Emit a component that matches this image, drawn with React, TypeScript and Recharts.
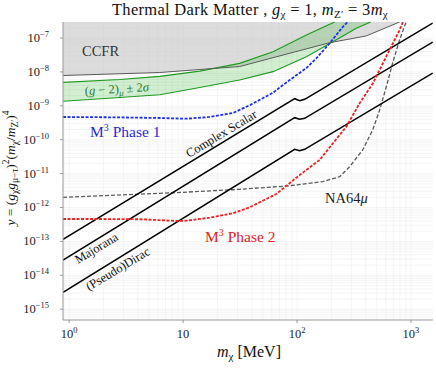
import React from 'react';
import { ComposedChart, Line, Area, XAxis, YAxis, CartesianGrid } from 'recharts';

const W = 436;
const H = 369;
const FONT = '"Liberation Serif", "DejaVu Serif", serif';

const X_MIN = 0.883;
const X_MAX = 1560;
const Y_MIN = 4.8e-16;
const Y_MAX = 2.965e-7;

const X_TICKS = [1, 10, 100, 1000];
const X_TICK_BASE = ['10', '10', '10', '10'];
const X_TICK_EXP = ['0', '', '2', '3'];
const Y_TICKS = [1e-15, 1e-14, 1e-13, 1e-12, 1e-11, 1e-10, 1e-9, 1e-8, 1e-7];
const Y_TICK_EXP = ['−15', '−14', '−13', '−12', '−11', '−10', '−9', '−8', '−7'];

const GRID_DECADES_X = [1, 10, 100];
const GRID_DECADES_Y = [1e-16, 1e-15, 1e-14, 1e-13, 1e-12, 1e-11, 1e-10, 1e-9, 1e-8, 1e-7];
const GRID_MULT = [1, 2, 3, 4, 5, 6, 7, 8, 9];

// CCFR excluded region (lower boundary)
const ccfrMass = [0.884, 6.24, 31.3, 193.2, 405, 794];
const ccfrY = [7.83e-9, 9.6e-9, 1.44e-8, 7.26e-8, 1.15e-7, 2.965e-7];

// (g-2)_mu +- 2 sigma band
const g2Mass = [0.884, 2.78, 6.24, 14.0, 31.3, 61.5, 120.8, 213.8, 331, 443];
const g2Upper = [4.93e-9, 5.97e-9, 7.41e-9, 1.06e-8, 1.79e-8, 3.94e-8, 1.225e-7, 2.965e-7, 2.965e-7, 2.965e-7];
const g2Lower = [1.36e-9, 1.76e-9, 2.12e-9, 3.47e-9, 5.77e-9, 1.014e-8, 2.81e-8, 8.32e-8, 1.93e-7, 2.965e-7];

// thermal targets
const thermalMass = [0.884, 95.3, 105.4, 116.7, 1550];
const complexScalarY = [1.153e-13, 1.62e-9, 1.41e-9, 1.556e-9, 2.75e-7];
const majoranaY = [2.82e-14, 4.46e-10, 4.0e-10, 4.28e-10, 7.57e-8];
const diracY = [3.15e-15, 5.21e-11, 4.74e-11, 5.21e-11, 9.23e-9];

// M3 Phase 1
const m3p1Mass = [0.884, 2.27, 6.24, 10.7, 17.1, 27.4, 38.4, 61.5, 75.2, 120.7, 147.6, 193.2, 252.7, 277.8];
const m3p1Y = [4.68e-10, 4.58e-10, 4.37e-10, 4.16e-10, 4.68e-10, 6.14e-10, 1.04e-9, 2.43e-9, 4.11e-9, 1.3e-8, 2.52e-8, 6.98e-8, 2.15e-7, 2.965e-7];

// M3 Phase 2
const m3p2Mass = [0.884, 1.855, 4.42, 8.73, 10.7, 17.1, 27.2, 38.4, 65.8, 105.4, 157.8, 206.5, 270.6, 354, 463, 530, 648, 794, 849];
const m3p2Y = [4.58e-13, 4.58e-13, 4.49e-13, 4.0e-13, 4.08e-13, 5.0e-13, 6.74e-13, 1.01e-12, 2.5e-12, 9.1e-12, 2.52e-11, 7.83e-11, 2.42e-10, 1.19e-9, 4.61e-9, 1.14e-8, 4.43e-8, 1.72e-7, 2.965e-7];

// NA64mu
const na64Mass = [0.884, 10.0, 31.4, 80.6, 167.9, 236.6, 289.6, 376.7, 460.8, 531, 607, 690, 794, 906];
const na64Y = [2.0e-12, 2.81e-12, 3.44e-12, 4.3e-12, 5.77e-12, 8.1e-12, 1.6e-11, 4.97e-11, 1.93e-10, 7.5e-10, 3.65e-9, 1.83e-8, 8.73e-8, 2.965e-7];

const rows = (ms: number[], ys: number[]) => ms.map((m, i) => ({ m, y: ys[i] }));

const ccfrRows = ccfrMass.map((m, i) => ({ m, y: ccfrY[i], band: [ccfrY[i], Y_MAX] }));
const g2Rows = g2Mass.map((m, i) => ({
  m,
  band: [g2Lower[i], g2Upper[i]],
  lo: g2Lower[i],
  hi: g2Upper[i] >= Y_MAX && i > 0 && g2Upper[i - 1] >= Y_MAX ? null : g2Upper[i],
}));

const gridX = [0.9, ...GRID_DECADES_X.flatMap((d) => GRID_MULT.map((k) => k * d)), 1000];
const gridY = GRID_DECADES_Y.flatMap((d) => GRID_MULT.map((k) => k * d)).filter((v) => v > Y_MIN && v < Y_MAX);

const XTick = (props: any) => {
  const { x, y, payload } = props;
  const i = X_TICKS.indexOf(payload.value);
  return (
    <text x={x} y={y + 13} textAnchor="middle" fontFamily={FONT} fontSize={12.5} fill="#222">
      {X_TICK_BASE[i]}
      {X_TICK_EXP[i] ? <tspan dy={-5} fontSize={8.5}>{X_TICK_EXP[i]}</tspan> : null}
    </text>
  );
};

const YTick = (props: any) => {
  const { x, y, payload } = props;
  const i = Y_TICKS.findIndex((t) => Math.abs(Math.log10(t) - Math.log10(payload.value)) < 1e-6);
  return (
    <text x={x - 9} y={y + 4} textAnchor="end" fontFamily={FONT} fontSize={12.5} fill="#222">
      10
      <tspan dy={-5} fontSize={8.5}>{Y_TICK_EXP[i]}</tspan>
    </text>
  );
};

export default function App() {
  return (
    <div style={{ position: 'absolute', left: 0, top: 0, width: W, height: H, background: '#fff' }}>
      <ComposedChart width={W} height={H} margin={{ top: 22, right: 3, bottom: 0, left: 0 }}>
        <CartesianGrid stroke="#f1f1f1" strokeWidth={0.8} verticalValues={gridX} horizontalValues={gridY} />
        <XAxis
          dataKey="m"
          type="number"
          scale="log"
          domain={[X_MIN, X_MAX]}
          allowDataOverflow
          ticks={X_TICKS}
          tick={<XTick />}
          tickSize={3}
          height={49}
          stroke="#9a9a9a"
          interval={0}
        />
        <XAxis
          xAxisId="top"
          orientation="top"
          dataKey="m"
          type="number"
          scale="log"
          domain={[X_MIN, X_MAX]}
          allowDataOverflow
          tick={false}
          tickLine={false}
          height={0}
          stroke="#9a9a9a"
        />
        <YAxis
          type="number"
          scale="log"
          domain={[Y_MIN, Y_MAX]}
          allowDataOverflow
          ticks={Y_TICKS}
          tick={<YTick />}
          tickSize={3}
          width={63}
          stroke="#9a9a9a"
          interval={0}
        />
        <YAxis
          yAxisId="right"
          orientation="right"
          type="number"
          scale="log"
          domain={[Y_MIN, Y_MAX]}
          allowDataOverflow
          tick={false}
          tickLine={false}
          width={0}
          stroke="#9a9a9a"
        />
        <Area data={ccfrRows} dataKey="band" stroke="none" fill="#c4c4c4" fillOpacity={0.6} isAnimationActive={false} dot={false} activeDot={false} />
        <Area data={g2Rows} dataKey="band" stroke="none" fill="#1fae1f" fillOpacity={0.2} isAnimationActive={false} dot={false} activeDot={false} />
        <Line data={g2Rows} dataKey="hi" stroke="#1f9a1f" strokeWidth={1.2} dot={false} activeDot={false} isAnimationActive={false} />
        <Line data={g2Rows} dataKey="lo" stroke="#1f9a1f" strokeWidth={1.2} dot={false} activeDot={false} isAnimationActive={false} />
        <Line data={ccfrRows} dataKey="y" stroke="#5a5a5a" strokeWidth={1} dot={false} activeDot={false} isAnimationActive={false} />
        <Line data={rows(na64Mass, na64Y)} dataKey="y" stroke="#5a5a5a" strokeWidth={1.3} strokeDasharray="4 2" dot={false} activeDot={false} isAnimationActive={false} />
        <Line data={rows(thermalMass, complexScalarY)} dataKey="y" stroke="#000" strokeWidth={1.5} dot={false} activeDot={false} isAnimationActive={false} />
        <Line data={rows(thermalMass, majoranaY)} dataKey="y" stroke="#000" strokeWidth={1.5} dot={false} activeDot={false} isAnimationActive={false} />
        <Line data={rows(thermalMass, diracY)} dataKey="y" stroke="#000" strokeWidth={1.5} dot={false} activeDot={false} isAnimationActive={false} />
        <Line data={rows(m3p1Mass, m3p1Y)} dataKey="y" stroke="#1f2ff0" strokeWidth={1.8} strokeDasharray="3 1.5" dot={false} activeDot={false} isAnimationActive={false} />
        <Line data={rows(m3p2Mass, m3p2Y)} dataKey="y" stroke="#f01f1f" strokeWidth={1.8} strokeDasharray="3 1.5" dot={false} activeDot={false} isAnimationActive={false} />
      </ComposedChart>
      <svg width={W} height={H} style={{ position: 'absolute', left: 0, top: 0, pointerEvents: 'none' }} fontFamily={FONT}>
        <text x={250} y={15} textAnchor="middle" fontSize={16.5} letterSpacing={0.3} fill="#111">
          {'Thermal Dark Matter ,  '}
          <tspan fontStyle="italic">g</tspan>
          <tspan dy={3} fontSize={11}>χ</tspan>
          <tspan dy={-3}>{' = 1,  '}</tspan>
          <tspan fontStyle="italic">m</tspan>
          <tspan dy={3} fontSize={11}>Z′</tspan>
          <tspan dy={-3}>{' = 3'}</tspan>
          <tspan fontStyle="italic">m</tspan>
          <tspan dy={3} fontSize={11}>χ</tspan>
        </text>
        <text x={249} y={357} textAnchor="middle" fontSize={16} fill="#111">
          <tspan fontStyle="italic">m</tspan>
          <tspan dy={3} fontSize={11}>χ</tspan>
          <tspan dy={-3}>{'  [MeV]'}</tspan>
        </text>
        <text transform="translate(15,168) rotate(-90)" textAnchor="middle" fontSize={13.5} fill="#111">
          <tspan fontStyle="italic">y</tspan>
          <tspan>{' = ('}</tspan>
          <tspan fontStyle="italic">g</tspan>
          <tspan dy={3} fontSize={9.5}>χ</tspan>
          <tspan dy={-3} fontStyle="italic">g</tspan>
          <tspan dy={3} fontSize={9.5}>μ−τ</tspan>
          <tspan dy={-3}>)</tspan>
          <tspan dy={-6} fontSize={9.5}>2</tspan>
          <tspan dy={6}>(</tspan>
          <tspan fontStyle="italic">m</tspan>
          <tspan dy={3} fontSize={9.5}>χ</tspan>
          <tspan dy={-3}>/</tspan>
          <tspan fontStyle="italic">m</tspan>
          <tspan dy={3} fontSize={9.5}>Z′</tspan>
          <tspan dy={-3}>)</tspan>
          <tspan dy={-6} fontSize={9.5}>4</tspan>
        </text>
        <text x={82} y={56} fontSize={14.5} fill="#333">CCFR</text>
        <text x={85} y={95} fontSize={12.5} fill="#2a7a2a" transform="rotate(-3.5 85 95)">
          <tspan>(</tspan>
          <tspan fontStyle="italic">g</tspan>
          <tspan>{' − 2)'}</tspan>
          <tspan dy={3} fontSize={9} fontStyle="italic">μ</tspan>
          <tspan dy={-3}>{' ± 2'}</tspan>
          <tspan fontStyle="italic">σ</tspan>
        </text>
        <text x={90} y={137} fontSize={15.5} fill="#2a2ad8">
          <tspan>M</tspan>
          <tspan dy={-6} fontSize={10}>3</tspan>
          <tspan dy={6}>{' Phase 1'}</tspan>
        </text>
        <text x={205} y={242} fontSize={15.5} fill="#e01c1c">
          <tspan>M</tspan>
          <tspan dy={-6} fontSize={10}>3</tspan>
          <tspan dy={6}>{' Phase 2'}</tspan>
        </text>
        <text x={325} y={203} fontSize={14.5} fill="#222">
          <tspan>NA64</tspan>
          <tspan fontStyle="italic">μ</tspan>
        </text>
        <text x={189} y={158} fontSize={12.5} fill="#111" transform="rotate(-31 189 158)">Complex Scalar</text>
        <text x={78} y={264} fontSize={12.5} fill="#111" transform="rotate(-31 78 264)">Majorana</text>
        <text x={89} y={291} fontSize={12.5} fill="#111" transform="rotate(-31 89 291)">(Pseudo)Dirac</text>
      </svg>
    </div>
  );
}
